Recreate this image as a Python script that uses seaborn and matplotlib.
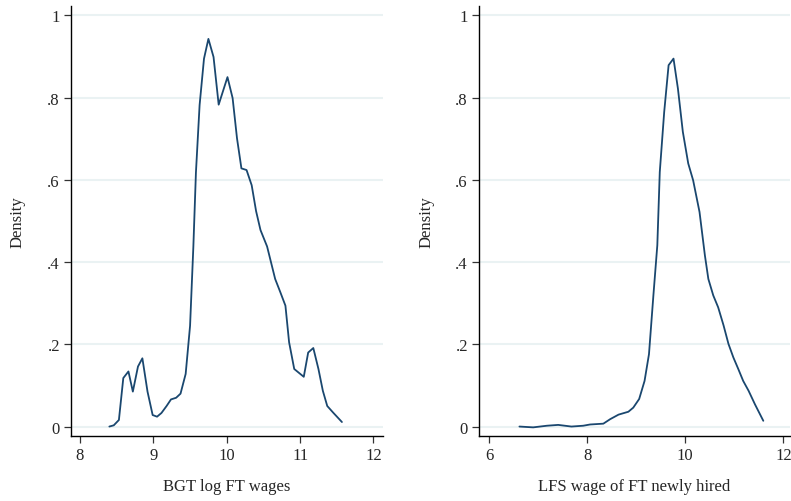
import numpy as np
import pandas as pd
import matplotlib
matplotlib.use("Agg")
import matplotlib.pyplot as plt
import seaborn as sns

# Left panel: BGT log FT wages density
bgt_x = [8.40, 8.46, 8.53, 8.59, 8.66, 8.72, 8.79, 8.85, 8.92, 8.99, 9.05, 9.11,
         9.18, 9.24, 9.31, 9.37, 9.44, 9.50, 9.545, 9.58, 9.63, 9.69, 9.75, 9.82,
         9.89, 10.01, 10.08, 10.14, 10.20, 10.27, 10.34, 10.40, 10.46, 10.55,
         10.66, 10.73, 10.80, 10.85, 10.92, 11.05, 11.11, 11.18, 11.25, 11.31,
         11.37, 11.45, 11.57]
bgt_y = [0.000, 0.003, 0.016, 0.118, 0.134, 0.085, 0.146, 0.166, 0.085, 0.028,
         0.024, 0.033, 0.050, 0.066, 0.070, 0.080, 0.128, 0.245, 0.438, 0.618,
         0.782, 0.895, 0.943, 0.899, 0.783, 0.850, 0.799, 0.701, 0.628, 0.624,
         0.587, 0.524, 0.478, 0.438, 0.359, 0.327, 0.294, 0.205, 0.140, 0.121,
         0.180, 0.191, 0.140, 0.087, 0.050, 0.034, 0.011]

# Right panel: LFS wage of FT newly hired density
lfs_x = [6.62, 6.90, 7.18, 7.41, 7.68, 7.92, 8.06, 8.33, 8.47, 8.64, 8.84, 8.94,
         9.06, 9.17, 9.26, 9.35, 9.43, 9.48, 9.57, 9.66, 9.76, 9.85, 9.95, 10.06,
         10.16, 10.29, 10.40, 10.47, 10.57, 10.67, 10.78, 10.88, 10.98, 11.08,
         11.18, 11.29, 11.42, 11.59]
lfs_y = [0.000, -0.002, 0.002, 0.004, 0.000, 0.002, 0.005, 0.007, 0.018, 0.029,
         0.036, 0.046, 0.067, 0.111, 0.176, 0.319, 0.441, 0.619, 0.765, 0.879,
         0.895, 0.822, 0.717, 0.640, 0.599, 0.522, 0.416, 0.359, 0.319, 0.290,
         0.246, 0.201, 0.168, 0.140, 0.111, 0.087, 0.054, 0.014]

y_ticks = [0, 0.2, 0.4, 0.6, 0.8, 1.0]
y_ticklabels = ["0", ".2", ".4", ".6", ".8", "1"]
left_xticks = [8, 9, 10, 11, 12]
right_xticks = [6, 8, 10, 12]
left_xlabel = "BGT log FT wages"
right_xlabel = "LFS wage of FT newly hired"
y_label = "Density"

sns.set_theme(style="white")
plt.rcParams["font.family"] = ["Liberation Serif", "DejaVu Serif"]

LINE = "#1a476f"
GRID = "#eaf2f3"

fig = plt.figure(figsize=(7.91, 5.02), dpi=100)
ax1 = fig.add_axes([71 / 791, 1 - 437 / 502, 312 / 791, 430 / 502])
ax2 = fig.add_axes([479 / 791, 1 - 437 / 502, 311 / 791, 430 / 502])

df1 = pd.DataFrame({"x": bgt_x, "y": bgt_y})
df2 = pd.DataFrame({"x": lfs_x, "y": lfs_y})

panels = [
    (ax1, df1, left_xticks, left_xlabel, (7.877, 12.13)),
    (ax2, df2, right_xticks, right_xlabel, (5.796, 12.134)),
]

for ax, df, xt, xl, xlim in panels:
    sns.lineplot(data=df, x="x", y="y", ax=ax, color=LINE, lw=1.3,
                 sort=False, estimator=None, zorder=3)
    ax.set_xlim(*xlim)
    ax.set_ylim(-0.023, 1.023)
    ax.set_yticks(y_ticks)
    ax.set_yticklabels(y_ticklabels)
    ax.set_xticks(xt)
    ax.set_xticklabels([str(v) for v in xt])
    for v in y_ticks:
        ax.axhline(v, color=GRID, lw=1.5, zorder=1)
    for s in ["top", "right"]:
        ax.spines[s].set_visible(False)
    for s in ["left", "bottom"]:
        ax.spines[s].set_color("black")
        ax.spines[s].set_linewidth(1.0)
    ax.tick_params(axis="both", which="both", length=5, width=0.9,
                   color="#333333", labelsize=12, pad=3, direction="out",
                   left=True, bottom=True)
    ax.set_xlabel(xl, fontsize=12)
    ax.set_ylabel(y_label, fontsize=12)
    ax.xaxis.set_label_coords(0.5, -0.116)
    ax.xaxis.label.set_va("center")
    ax.yaxis.set_label_coords(-0.17, 0.5)
    ax.yaxis.label.set_va("center")
    ax.set_facecolor("white")

fig.savefig("out.png", dpi=100, facecolor="white")
